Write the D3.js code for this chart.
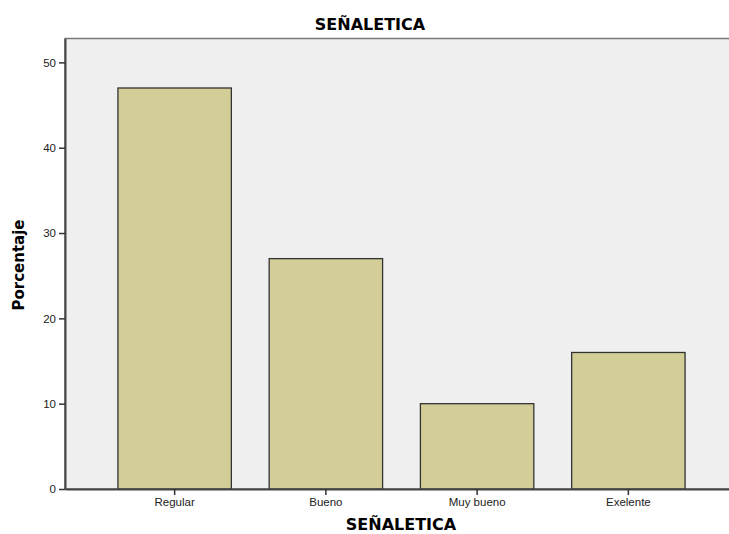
<!DOCTYPE html>
<html>
<head>
<meta charset="utf-8">
<script src="https://cdn.jsdelivr.net/npm/d3@7"></script>
<style>
  body { margin: 0; background: #fff; }
  svg { display: block; font-family: "DejaVu Sans", sans-serif; }
</style>
</head>
<body>
<svg id="chart" width="729" height="534"></svg>
<script>
'use strict';
// chart data
var categories = ['Regular', 'Bueno', 'Muy bueno', 'Exelente'];
var porcentajes = [47, 27, 10, 16];
var yTicks = [0, 10, 20, 30, 40, 50];

var svg = d3.select('#chart');
// plot box (right side runs past the picture edge, as in the reference)
var plot = { left: 65, top: 38.5, right: 738, bottom: 489 };

var y = d3.scaleLinear()
    .domain([0, 52.8])
    .range([plot.bottom, plot.top]);

var x = d3.scaleBand()
    .domain(categories)
    .range([plot.left, plot.right])
    .paddingInner(0.25)
    .paddingOuter(0.35);

// background
svg.append('rect')
    .attr('x', plot.left).attr('y', plot.top)
    .attr('width', plot.right - plot.left).attr('height', plot.bottom - plot.top)
    .style('fill', '#efefef')
    .style('stroke', '#777')
    .style('stroke-width', 1.5);

// bars
svg.selectAll('rect.bar')
    .data(porcentajes)
    .enter().append('rect')
    .attr('class', 'bar')
    .attr('x', function(d, i) { return x(categories[i]); })
    .attr('y', function(d) { return y(d); })
    .attr('width', x.bandwidth())
    .attr('height', function(d) { return plot.bottom - y(d); })
    .style('fill', '#d3ce97')
    .style('stroke', '#333')
    .style('stroke-width', 1.3);

// y axis
var yAxis = svg.append('g')
    .attr('transform', 'translate(' + plot.left + ',0)')
    .call(d3.axisLeft(y).tickValues(yTicks).tickSizeInner(6).tickSizeOuter(0).tickPadding(3));
// x axis
var xAxis = svg.append('g')
    .attr('transform', 'translate(0,' + plot.bottom + ')')
    .call(d3.axisBottom(x).tickSizeInner(6).tickSizeOuter(0).tickPadding(3));

[yAxis, xAxis].forEach(function(ax) {
    ax.select('.domain').style('stroke', '#444').style('stroke-width', 2);
    ax.selectAll('.tick line').style('stroke', '#333').style('stroke-width', 1.5);
    ax.selectAll('.tick text')
        .style('font-size', '11.5px')
        .style('fill', '#222');
});

// titles
svg.append('text')
    .attr('x', 370).attr('y', 30)
    .attr('text-anchor', 'middle')
    .style('font-size', '16px').style('font-weight', 'bold')
    .text('SEÑALETICA');

svg.append('text')
    .attr('x', 401).attr('y', 530)
    .attr('text-anchor', 'middle')
    .style('font-size', '16px').style('font-weight', 'bold')
    .text('SEÑALETICA');

svg.append('text')
    .attr('transform', 'translate(24,265) rotate(-90)')
    .attr('text-anchor', 'middle')
    .style('font-size', '15px').style('font-weight', 'bold')
    .text('Porcentaje');
</script>
</body>
</html>
